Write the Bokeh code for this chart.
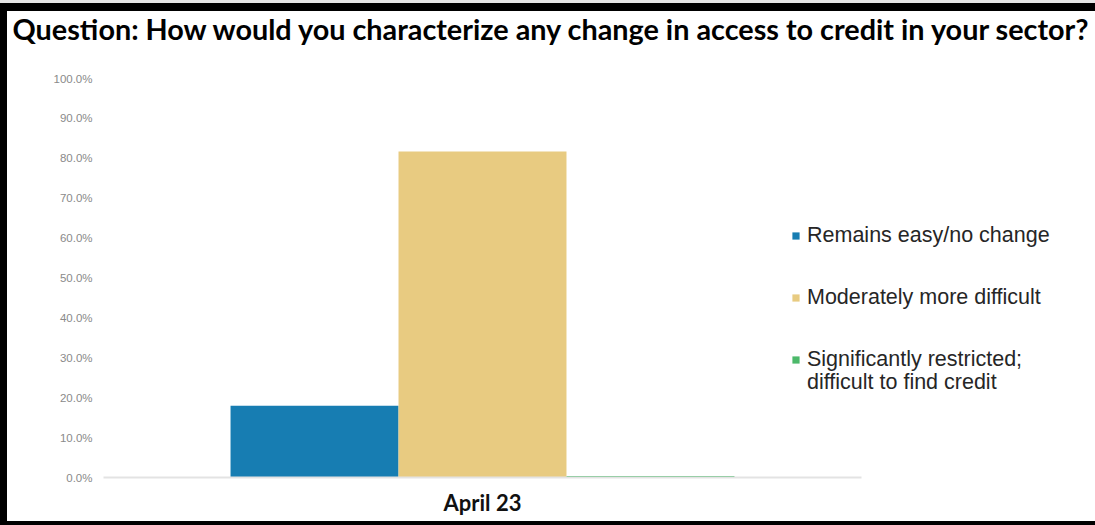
from bokeh.plotting import figure
from bokeh.models import (Range1d, Legend, LegendItem, NumeralTickFormatter,
                          FixedTicker, ColumnDataSource, Title)
from bokeh.transform import dodge
from bokeh.embed import file_html
from bokeh.resources import INLINE

# ---- data ----
title_text = "Question: How would you characterize any change in access to credit in your sector?"
categories = ["April 23"]
remains_easy = [0.180]
moderately_more_difficult = [0.817]
significantly_restricted = [0.004]
series_labels = ["Remains easy/no change", "Moderately more difficult",
                 "Significantly restricted;", "difficult to find credit"]
y_ticks = [0.0, 0.1, 0.2, 0.3, 0.4, 0.5, 0.6, 0.7, 0.8, 0.9, 1.0]

colors = ["#177db2", "#e8cb81", "#4cb96a"]

# category slots: one unit per category, centred at i + 0.5
cat_pos = [i + 0.5 for i in range(len(categories))]

src = ColumnDataSource(dict(x=cat_pos, cat=categories, remains=remains_easy,
                            moderately=moderately_more_difficult,
                            significantly=significantly_restricted))

W, H = 1095, 525
frame_left, frame_px_per_cat = 103, 758
x_end = (W - frame_left) / frame_px_per_cat

p = figure(width=W, height=H, x_range=Range1d(0, x_end), y_range=Range1d(0, 1),
           output_backend="svg", toolbar_location=None,
           min_border_left=frame_left, min_border_right=0, min_border_top=78, min_border_bottom=48)

bw = 0.2216
r1 = p.vbar(x=dodge("x", -bw), top="remains", width=bw, source=src,
            fill_color=colors[0], line_color=None)
r2 = p.vbar(x=dodge("x", 0), top="moderately", width=bw, source=src,
            fill_color=colors[1], line_color=None)
r3 = p.vbar(x=dodge("x", bw), top="significantly", width=bw, source=src,
            fill_color=colors[2], line_color=None)
r4 = p.vbar(x=dodge("x", bw), top="significantly", width=bw, source=src,
            fill_alpha=0, line_alpha=0)

# title: a thin spacer next to the frame, then the question text above it
p.title.text = ""
p.title.standoff = 0
spacer = Title(text=" ", text_font_size="1px", standoff=28)
main_title = Title(text=title_text, text_font="Lato", text_font_style="bold",
                   text_font_size="28.8px", text_color="#000000", align="left",
                   offset=-91, standoff=3)
p.add_layout(spacer, "above")
p.add_layout(main_title, "above")

# axes
p.xgrid.visible = False
p.ygrid.visible = False
p.outline_line_color = None
p.background_fill_color = "white"
# transparent border area so the page frame painted on the element shows through
p.border_fill_color = "white"
p.border_fill_alpha = 0

p.yaxis.ticker = FixedTicker(ticks=y_ticks)
p.yaxis.formatter = NumeralTickFormatter(format="0.0%")
p.yaxis.axis_line_color = None
p.yaxis.major_tick_line_color = None
p.yaxis.minor_tick_line_color = None
p.yaxis.major_tick_out = 0
p.yaxis.major_label_standoff = 11
p.yaxis.major_label_text_font = "Liberation Sans"
p.yaxis.major_label_text_font_size = "11.5px"
p.yaxis.major_label_text_color = "#8a8a8a"

p.xaxis.ticker = FixedTicker(ticks=cat_pos)
p.xaxis.major_label_overrides = {pos: c for pos, c in zip(cat_pos, categories)}
p.xaxis.bounds = (0, len(categories))
p.xaxis.axis_line_color = "#e3e3e3"
p.xaxis.axis_line_width = 2
p.xaxis.major_tick_line_color = None
p.xaxis.minor_tick_line_color = None
p.xaxis.major_tick_out = 0
p.xaxis.major_label_standoff = 11
p.xaxis.major_label_text_font = "Lato"
p.xaxis.major_label_text_font_style = "bold"
p.xaxis.major_label_text_font_size = "22px"
p.xaxis.major_label_text_color = "#111111"

# legends
def style_legend(lg):
    lg.label_text_font = "Liberation Sans"
    lg.label_text_font_size = "21.5px"
    lg.label_text_color = "#262626"
    lg.glyph_width = 9
    lg.glyph_height = 9
    lg.label_standoff = 7
    lg.label_height = 24
    lg.padding = 0
    lg.margin = 0
    lg.border_line_color = None
    lg.background_fill_alpha = 0

leg1 = Legend(items=[LegendItem(label=series_labels[0], renderers=[r1]),
                     LegendItem(label=series_labels[1], renderers=[r2]),
                     LegendItem(label=series_labels[2], renderers=[r3])],
              location=(688, 105), spacing=37)
style_legend(leg1)
leg2 = Legend(items=[LegendItem(label=series_labels[3], renderers=[r4])],
              location=(688, 82), spacing=0)
style_legend(leg2)
p.add_layout(leg1, "center")
p.add_layout(leg2, "center")

# black picture frame (top, left, bottom) painted inside the element, under the canvas
p.styles = {"background-color": "#ffffff",
            "box-shadow": "inset 0 3px 0 0 #e6e6e6, inset 0 11px 0 0 #000, "
                          "inset 7px 0 0 0 #000, inset 0 -4px 0 0 #000"}

open("out.html", "w").write(file_html(p, INLINE))
